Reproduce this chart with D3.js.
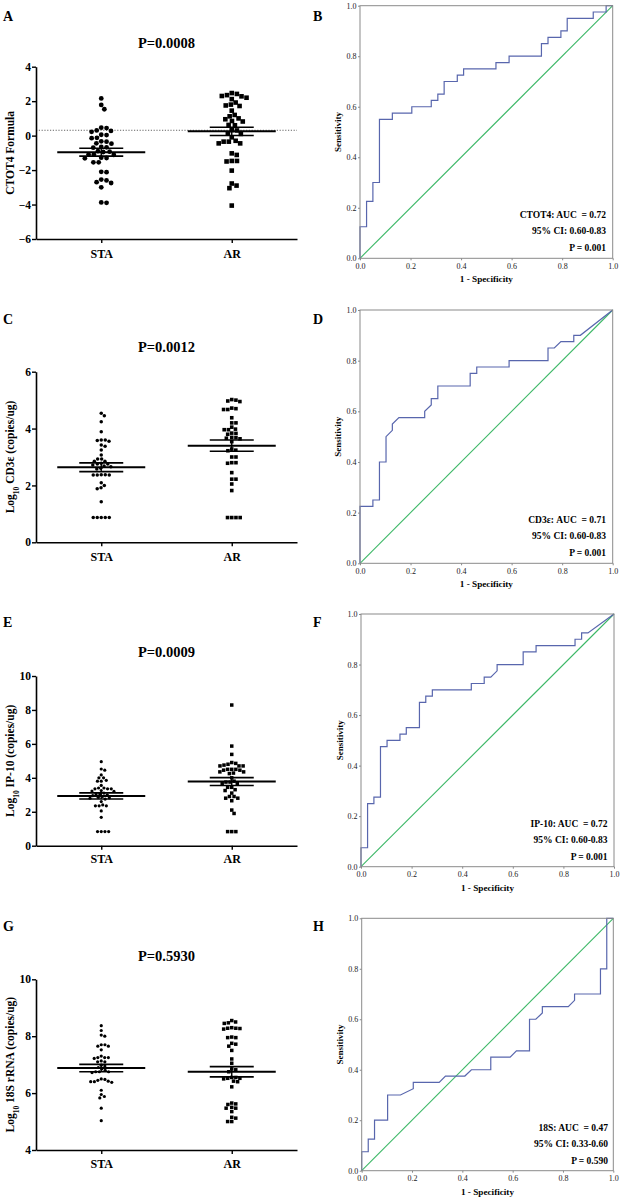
<!DOCTYPE html>
<html><head><meta charset="utf-8">
<script src="https://cdn.jsdelivr.net/npm/d3@7"></script>
<style>
body{margin:0;background:#fff}
svg{display:block}
text{font-family:"Liberation Serif","Times New Roman",serif}
</style>
</head><body>
<svg id="c" width="621" height="1200"></svg>
<script>
// ---------------- DATA ----------------
const groups = ["STA", "AR"];

// Panel A – CTOT4 formula
const staA = [2.16,1.78,1.53,0.46,0.44,0.3,0.27,0.22,0.05,0.03,-0.13,-0.15,-0.35,-0.33,-0.45,-0.47,-0.68,-0.7,-0.66,-0.93,-0.95,-1.1,-1.12,-1.1,-1.3,-1.32,-1.28,-1.55,-1.55,-2.1,-2.12,-2.55,-2.6,-2.7,-2.75,-3.0,-3.9,-3.88,-0.9];
const arA  = [2.47,2.42,2.35,2.3,2.28,2.2,2.12,1.92,1.8,1.75,1.72,1.45,1.2,1.12,1.0,0.95,0.85,0.82,0.6,0.62,0.32,0.3,0.1,0.12,-0.1,-0.3,-0.35,-0.35,-0.45,-0.45,-1.03,-1.12,-1.47,-1.5,-1.47,-2.03,-2.78,-2.9,-3.05,-4.06];
const meanA = [-0.96, 0.25];
const semA  = [0.23, 0.24];
const cutoffA = 0.31;
const ticksA = [-6,-4,-2,0,2,4];

// Panel C – CD3e
const staC = [4.54,4.45,4.24,3.89,3.6,3.58,3.55,3.6,3.42,3.38,3.25,3.07,2.93,2.85,2.93,2.85,2.75,2.75,2.78,2.72,2.68,2.66,2.58,2.6,2.38,2.37,2.37,2.38,2.37,2.09,2.0,1.88,1.92,1.43,0.87,0.87,0.87,0.87,0.87];
const arC  = [5.0,4.95,4.97,5.02,4.7,4.67,4.67,4.72,4.38,4.2,4.2,4.05,3.96,3.96,3.98,3.83,3.8,3.84,3.69,3.64,3.68,3.66,3.54,3.28,3.24,3.22,3.0,3.0,2.8,2.78,2.8,2.45,2.22,2.22,2.05,1.82,0.87,0.87,0.87,0.87];
const meanC = [2.64, 3.40];
const semC  = [0.155, 0.2];
const ticksC = [0,2,4,6];

// Panel E – IP-10
const staE = [4.95,4.52,4.45,4.17,4.0,3.85,4.0,3.8,3.8,3.4,3.35,3.35,3.35,3.4,3.55,3.22,3.2,3.25,3.05,3.05,2.8,2.75,2.85,2.82,2.6,2.35,2.35,2.35,2.4,2.05,1.67,0.83,0.83,0.83,0.83,2.9,3.0,2.95,3.1];
const arE  = [8.29,5.87,5.38,4.7,4.7,4.9,4.8,4.85,4.7,4.75,4.45,4.45,4.5,4.35,4.5,4.35,4.5,4.25,4.28,4.0,3.75,3.65,3.8,3.65,3.75,3.44,3.44,3.25,3.3,3.1,2.9,2.8,2.65,2.8,2.9,2.1,1.9,0.83,0.83,0.83];
const meanE = [2.93, 3.78];
const semE  = [0.18, 0.23];
const ticksE = [0,2,4,6,8,10];

// Panel G – 18S rRNA
const staG = [8.37,8.2,8.04,8.0,7.7,7.65,7.65,7.7,7.52,7.25,7.22,7.3,7.25,7.25,7.1,7.13,7.1,6.98,6.95,6.8,6.75,6.75,6.72,6.75,6.5,6.45,6.4,6.38,6.4,6.42,6.48,6.1,5.95,5.88,5.83,5.47,5.03,6.9,6.85];
const arG  = [8.45,8.5,8.47,8.55,8.28,8.3,8.28,8.27,8.25,7.95,7.95,7.97,7.72,7.75,7.65,7.5,7.2,7.05,6.85,6.82,6.75,6.55,6.52,6.5,6.52,6.55,6.4,6.42,6.22,5.62,5.65,5.6,5.47,5.47,5.5,5.12,5.0,5.0,5.15,5.35];
const meanG = [6.88, 6.75];
const semG  = [0.13, 0.18];
const ticksG = [4,6,8,10];

// ROC curves (1 - specificity, sensitivity)
const rocB_fpr = [0,0,0.026,0.026,0.051,0.051,0.077,0.077,0.128,0.128,0.205,0.205,0.282,0.282,0.308,0.308,0.333,0.333,0.385,0.385,0.41,0.41,0.538,0.538,0.59,0.59,0.718,0.718,0.744,0.744,0.795,0.795,0.82,0.82,0.923,0.923,0.974,0.974,1.0];
const rocB_tpr = [0,0.125,0.125,0.225,0.225,0.3,0.3,0.55,0.55,0.575,0.575,0.6,0.6,0.625,0.625,0.65,0.65,0.7,0.7,0.725,0.725,0.75,0.75,0.775,0.775,0.8,0.8,0.85,0.85,0.875,0.875,0.9,0.9,0.95,0.95,0.975,0.975,1.0,1.0];

const rocD_fpr = [0,0,0.051,0.051,0.077,0.077,0.103,0.103,0.128,0.128,0.154,0.256,0.256,0.282,0.282,0.308,0.308,0.436,0.436,0.462,0.462,0.59,0.59,0.744,0.744,0.769,0.795,0.846,0.846,0.872,1.0];
const rocD_tpr = [0,0.225,0.225,0.25,0.25,0.4,0.4,0.5,0.525,0.55,0.575,0.575,0.6,0.625,0.65,0.65,0.7,0.7,0.75,0.75,0.775,0.775,0.8,0.8,0.85,0.85,0.875,0.875,0.9,0.9,1.0];

const rocF_fpr = [0,0,0.026,0.026,0.051,0.051,0.077,0.077,0.103,0.103,0.154,0.154,0.179,0.179,0.231,0.231,0.256,0.256,0.282,0.282,0.436,0.436,0.487,0.487,0.513,0.538,0.538,0.641,0.641,0.692,0.692,0.846,0.846,0.872,0.872,0.897,1.0];
const rocF_tpr = [0,0.075,0.075,0.25,0.25,0.275,0.275,0.475,0.475,0.5,0.5,0.525,0.525,0.55,0.55,0.65,0.65,0.675,0.675,0.7,0.7,0.725,0.725,0.75,0.75,0.775,0.8,0.8,0.85,0.85,0.875,0.875,0.9,0.9,0.925,0.925,1.0];

const rocH_fpr = [0,0,0.026,0.026,0.051,0.051,0.103,0.103,0.154,0.205,0.205,0.308,0.333,0.41,0.436,0.513,0.513,0.59,0.615,0.667,0.667,0.692,0.718,0.718,0.821,0.846,0.846,0.949,0.949,0.974,0.974,1.0];
const rocH_tpr = [0,0.075,0.075,0.125,0.125,0.2,0.2,0.3,0.3,0.325,0.35,0.35,0.375,0.375,0.4,0.4,0.45,0.45,0.475,0.475,0.6,0.6,0.625,0.65,0.65,0.675,0.7,0.7,0.8,0.8,1.0,1.0];

const rocTicks = [0,0.2,0.4,0.6,0.8,1.0];

const rocTextB = ["CTOT4: AUC  = 0.72", "95% CI: 0.60-0.83", "P = 0.001"];
const rocTextD = ["CD3\u03b5: AUC  = 0.71", "95% CI: 0.60-0.83", "P = 0.001"];
const rocTextF = ["IP-10: AUC  = 0.72", "95% CI: 0.60-0.83", "P = 0.001"];
const rocTextH = ["18S: AUC  = 0.47", "95% CI: 0.33-0.60", "P = 0.590"];

// ---------------- DRAWING ----------------
const svg = d3.select("#c");

function swarm(values, yScale, cx, d) {
  const order = values.map((v,i)=>({v, y: yScale(v), i})).sort((a,b)=>b.v-a.v);
  const placed = [];
  order.forEach(p => {
    const near = placed.filter(q => Math.abs(q.y - p.y) < d);
    const cands = [0];
    near.forEach(q => {
      const dx = Math.sqrt(Math.max(0, d*d - (q.y-p.y)*(q.y-p.y)));
      cands.push(q.x + dx + 0.01, q.x - dx - 0.01);
    });
    cands.sort((a,b)=>Math.abs(a)-Math.abs(b));
    for (const c of cands) {
      if (near.every(q => (q.x-c)*(q.x-c) + (q.y-p.y)*(q.y-p.y) >= d*d - 0.01)) { p.x = c; break; }
    }
    placed.push(p);
  });
  return placed.map(p => ({x: cx + p.x, y: p.y}));
}

function scatterPanel(cfg) {
  const g = svg.append("g");
  const y = d3.scaleLinear().domain(cfg.domain).range([cfg.yBottom, cfg.yTop]);
  const x = d3.scalePoint().domain(groups).range([36, 297]).padding(0.5);
  const dash = 0;
  // letter & title
  g.append("text").attr("x", 3).attr("y", cfg.letterY).text(cfg.letter)
    .attr("font-size", 14).attr("font-weight", "bold");
  g.append("text").attr("x", 166.5).attr("y", cfg.titleY).attr("text-anchor", "middle")
    .attr("font-size", 14.5).attr("font-weight", "bold").text(cfg.title);
  // cutoff line
  if (cfg.cutoff !== undefined) {
    g.append("line").attr("x1", 36).attr("x2", 297).attr("y1", y(cfg.cutoff)).attr("y2", y(cfg.cutoff))
      .attr("stroke", "#555").attr("stroke-width", 0.9).attr("stroke-dasharray", "1.2,1.6");
  }
  // y axis
  const ya = g.append("g").attr("transform", "translate(36,0)")
    .call(d3.axisLeft(y).tickValues(cfg.ticks).tickSize(4).tickSizeOuter(0).tickFormat(d3.format("d")));
  ya.select(".domain").attr("stroke", "#000").attr("stroke-width", 1.6);
  ya.selectAll(".tick line").attr("stroke", "#000").attr("stroke-width", 1.4);
  ya.selectAll(".tick text").attr("font-family", "Liberation Serif").attr("font-weight", "bold")
    .attr("font-size", 11.5).attr("fill", "#000").attr("x", -5);
  // x axis
  const xa = g.append("g").attr("transform", `translate(0,${cfg.yBottom})`)
    .call(d3.axisBottom(x).tickSize(4).tickSizeOuter(0));
  xa.select(".domain").attr("stroke", "#000").attr("stroke-width", 1.6);
  xa.selectAll(".tick line").attr("stroke", "#000").attr("stroke-width", 1.4);
  xa.selectAll(".tick text").attr("font-family", "Liberation Serif").attr("font-weight", "bold")
    .attr("font-size", 12).attr("fill", "#000").attr("y", null).attr("dy", null)
    .attr("transform", `translate(0,${cfg.xLabelY - cfg.yBottom})`);
  // y label
  const yc = (cfg.yTop + cfg.yBottom) / 2;
  const yl = g.append("text").attr("transform", `translate(13.5,${yc}) rotate(-90)`)
    .attr("text-anchor", "middle").attr("font-size", 11.5).attr("font-weight", "bold");
  cfg.ylabel.forEach(part => {
    const t = yl.append("tspan").text(part.t);
    if (part.sub) t.attr("font-size", 7.5).attr("baseline-shift", "sub");
  });
  // points
  const staPts = swarm(cfg.sta, y, x("STA"), cfg.r * 2 + 0.5);
  g.append("g").selectAll("circle").data(staPts).join("circle")
    .attr("cx", d => d.x).attr("cy", d => d.y).attr("r", cfg.r).attr("fill", "#000");
  const arPts = swarm(cfg.ar, y, x("AR"), cfg.s + 0.6);
  g.append("g").selectAll("rect").data(arPts).join("rect")
    .attr("x", d => d.x - cfg.s/2).attr("y", d => d.y - cfg.s/2)
    .attr("width", cfg.s).attr("height", cfg.s).attr("fill", "#000");
  // mean & SEM
  groups.forEach((gr, i) => {
    const cx = x(gr), m = cfg.mean[i], se = cfg.sem[i];
    g.append("line").attr("x1", cx-44).attr("x2", cx+44).attr("y1", y(m)).attr("y2", y(m))
      .attr("stroke", "#000").attr("stroke-width", 2);
    [m+se, m-se].forEach(v => g.append("line").attr("x1", cx-22).attr("x2", cx+22)
      .attr("y1", y(v)).attr("y2", y(v)).attr("stroke", "#000").attr("stroke-width", 1.6));
    g.append("line").attr("x1", cx).attr("x2", cx).attr("y1", y(m+se)).attr("y2", y(m-se))
      .attr("stroke", "#000").attr("stroke-width", 1.4);
  });
}

function rocPanel(cfg) {
  const g = svg.append("g");
  const x = d3.scaleLinear().domain([0,1]).range([cfg.x0, cfg.x1]);
  const y = d3.scaleLinear().domain([0,1]).range([cfg.y0, cfg.y1]);
  g.append("text").attr("x", 313).attr("y", cfg.letterY).text(cfg.letter)
    .attr("font-size", 14).attr("font-weight", "bold");
  // diagonal
  g.append("line").attr("x1", x(0)).attr("y1", y(0)).attr("x2", x(1)).attr("y2", y(1))
    .attr("stroke", "#3db867").attr("stroke-width", 1.1);
  // curve
  const pts = cfg.fpr.map((f,i)=>[f, cfg.tpr[i]]);
  g.append("path").attr("d", d3.line().x(d=>x(d[0])).y(d=>y(d[1]))(pts))
    .attr("fill", "none").attr("stroke", "#5866ad").attr("stroke-width", 1.2);
  // box
  g.append("rect").attr("x", x(0)).attr("y", y(1)).attr("width", x(1)-x(0)).attr("height", y(0)-y(1))
    .attr("fill", "none").attr("stroke", "#8a8a8a").attr("stroke-width", 1);
  // axes
  const xa = g.append("g").attr("transform", `translate(0,${y(0)})`)
    .call(d3.axisBottom(x).tickValues(rocTicks).tickSize(2).tickSizeOuter(0).tickFormat(d3.format(".1f")));
  xa.select(".domain").remove();
  xa.selectAll(".tick line").attr("stroke", "#8a8a8a");
  xa.selectAll(".tick text").attr("font-family", "Liberation Serif").attr("font-size", 8)
    .attr("fill", "#222").attr("dy", null).attr("y", 10.5);
  const ya = g.append("g").attr("transform", `translate(${x(0)},0)`)
    .call(d3.axisLeft(y).tickValues(rocTicks).tickSize(2).tickSizeOuter(0).tickFormat(d3.format(".1f")));
  ya.select(".domain").remove();
  ya.selectAll(".tick line").attr("stroke", "#8a8a8a");
  ya.selectAll(".tick text").attr("font-family", "Liberation Serif").attr("font-size", 8)
    .attr("fill", "#222").attr("x", -3.5);
  // titles
  g.append("text").attr("x", (x(0)+x(1))/2).attr("y", y(0) + 24).attr("text-anchor", "middle")
    .attr("font-size", 9.2).attr("font-weight", "bold").text("1 - Specificity");
  g.append("text").attr("transform", `translate(${cfg.syX},${(y(0)+y(1))/2}) rotate(-90)`)
    .attr("text-anchor", "middle").attr("font-size", 9).attr("font-weight", "bold").text("Sensitivity");
  // annotation
  [-40, -24, -7].forEach((dy, i) => {
    g.append("text").attr("x", cfg.annX).attr("y", y(0) + dy).attr("text-anchor", "end")
      .attr("font-size", 9.5).attr("font-weight", "bold").attr("xml:space", "preserve")
      .style("white-space", "pre").text(cfg.text[i]);
  });
}

scatterPanel({letter:"A", letterY:20.7, title:"P=0.0008", titleY:48, domain:[-6,4], yBottom:239, yTop:66.7,
  ticks:ticksA, xLabelY:258, sta:staA, ar:arA, mean:meanA, sem:semA, cutoff:cutoffA, r:2.4, s:4.6,
  ylabel:[{t:"CTOT4 Formula"}]});
scatterPanel({letter:"C", letterY:324.3, title:"P=0.0012", titleY:351.7, domain:[0,6], yBottom:542.3, yTop:371.7,
  ticks:ticksC, xLabelY:560.7, sta:staC, ar:arC, mean:meanC, sem:semC, r:1.75, s:3.6,
  ylabel:[{t:"Log"},{t:"10",sub:true},{t:" CD3\u03b5 (copies/ug)"}]});
scatterPanel({letter:"E", letterY:627, title:"P=0.0009", titleY:657.3, domain:[0,10], yBottom:845.7, yTop:676,
  ticks:ticksE, xLabelY:863, sta:staE, ar:arE, mean:meanE, sem:semE, r:1.6, s:3.5,
  ylabel:[{t:"Log"},{t:"10",sub:true},{t:" IP-10 (copies/ug)"}]});
scatterPanel({letter:"G", letterY:930.7, title:"P=0.5930", titleY:960.7, domain:[4,10], yBottom:1150, yTop:979.3,
  ticks:ticksG, xLabelY:1167.6, sta:staG, ar:arG, mean:meanG, sem:semG, r:1.6, s:3.5,
  ylabel:[{t:"Log"},{t:"10",sub:true},{t:" 18S rRNA (copies/ug)"}]});

rocPanel({letter:"B", letterY:21, x0:360, x1:612.7, y0:258.3, y1:5.7, fpr:rocB_fpr, tpr:rocB_tpr, text:rocTextB, annX:606, syX:341});
rocPanel({letter:"D", letterY:324, x0:360, x1:612.7, y0:563.3, y1:310, fpr:rocD_fpr, tpr:rocD_tpr, text:rocTextD, annX:606, syX:341});
rocPanel({letter:"F", letterY:627, x0:361, x1:614, y0:866.7, y1:614, fpr:rocF_fpr, tpr:rocF_tpr, text:rocTextF, annX:607.5, syX:343});
rocPanel({letter:"H", letterY:930.5, x0:361.7, x1:613.3, y0:1170.7, y1:918.3, fpr:rocH_fpr, tpr:rocH_tpr, text:rocTextH, annX:608, syX:343});
</script>
</body></html>
